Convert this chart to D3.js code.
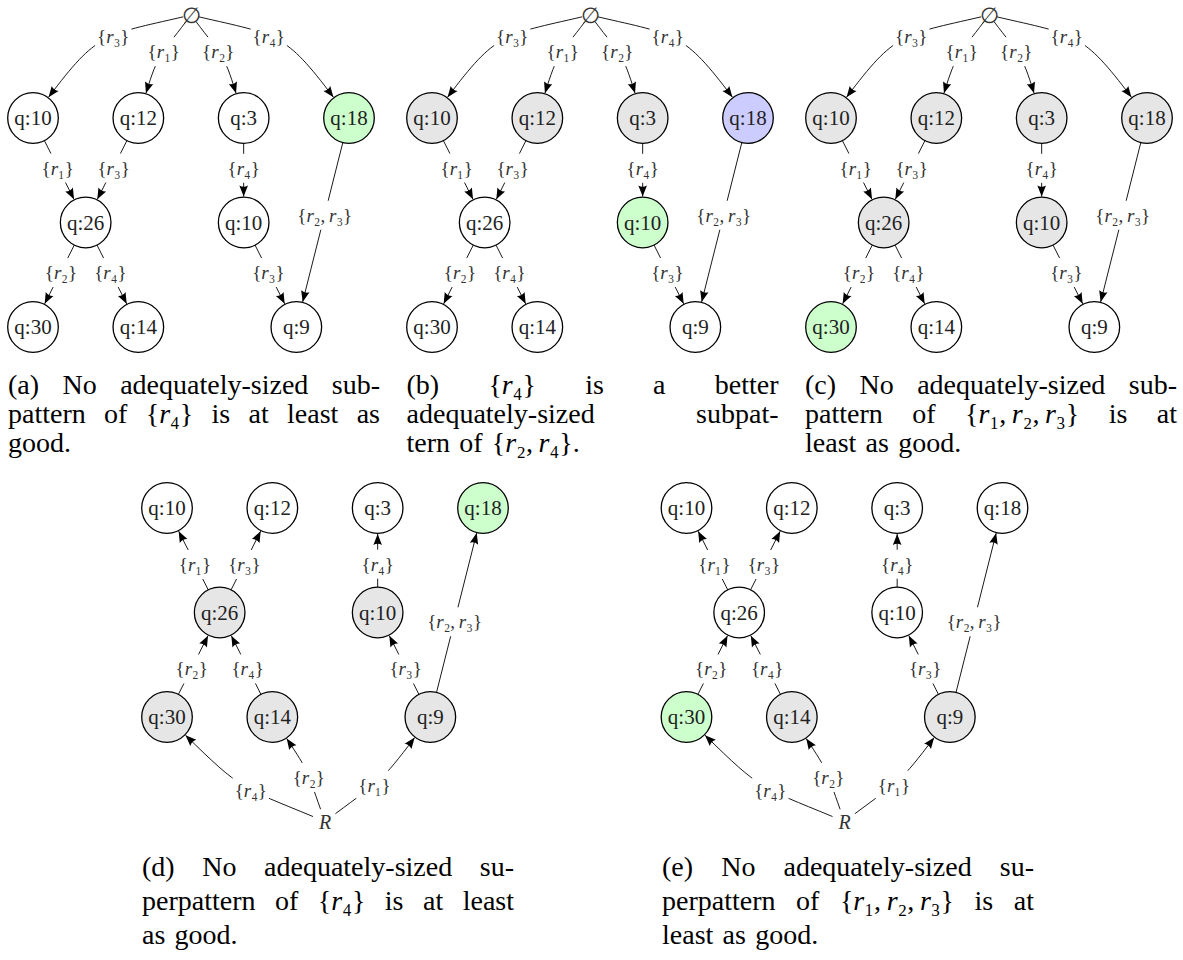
<!DOCTYPE html>
<html><head><meta charset="utf-8">
<script src="https://cdn.jsdelivr.net/npm/d3@7"></script>
<style>html,body{margin:0;padding:0;background:#fff}svg{display:block}</style>
</head><body>
<svg id="chart" width="1183" height="960"></svg>
<script>
// ---------------- data ----------------
const nodeIds    = ["q10a","q12","q3","q18","q26","q10b","q30","q14","q9"];
const nodeLabels = ["q:10","q:12","q:3","q:18","q:26","q:10","q:30","q:14","q:9"];
const nodeCols   = [0, 1, 2, 3, 0.5, 2, 0, 1, 2.5];
const nodeRows   = [0, 0, 0, 0, 1, 1, 2, 2, 2];

// sub-pattern lattice (panels a-c), root = ∅ on top
const subFrom   = ["root","root","root","root","q10a","q12","q3","q18","q26","q26","q10b"];
const subTo     = ["q10a","q12","q3","q18","q26","q26","q10b","q9","q30","q14","q9"];
const subLabels = ["{r_3}","{r_1}","{r_2}","{r_4}","{r_1}","{r_3}","{r_4}","{r_2, r_3}","{r_2}","{r_4}","{r_3}"];
const subBend   = [20, 10, -10, -20, 0, 0, 0, 0, 0, 0, 0];

// super-pattern lattice (panels d-e), root = R at bottom
const supFrom   = ["q26","q26","q10b","q9","q30","q14","q9","root","root","root"];
const supTo     = ["q10a","q12","q3","q18","q26","q26","q10b","q30","q14","q9"];
const supLabels = ["{r_1}","{r_3}","{r_4}","{r_2, r_3}","{r_2}","{r_4}","{r_3}","{r_4}","{r_2}","{r_1}"];
const supBend   = [0, 0, 0, 0, 0, 0, 0, -11, 7, 8];

// node states per panel: w = plain, g = grey, G = green, B = blue
const panelNames  = ["a","b","c","d","e"];
const panelKinds  = ["sub","sub","sub","sup","sup"];
const panelStates = [
  ["w","w","w","G","w","w","w","w","w"],
  ["g","g","g","B","w","G","w","w","w"],
  ["g","g","g","g","g","g","G","w","w"],
  ["w","w","w","G","g","g","g","g","g"],
  ["w","w","w","w","w","w","G","g","g"]
];
const captions = [
  ["(a) No adequately-sized sub-", "pattern of {r_4} is at least as", "good."],
  ["(b) {r_4} is a better", "adequately-sized subpat-", "tern of {r_2, r_4}."],
  ["(c) No adequately-sized sub-", "pattern of {r_1, r_2, r_3} is at", "least as good."],
  ["(d) No adequately-sized su-", "perpattern of {r_4} is at least", "as good."],
  ["(e) No adequately-sized su-", "perpattern of {r_1, r_2, r_3} is at", "least as good."]
];

// ---------------- layout / style ----------------
const panelX = [0, 399, 798, 134, 653.5];
const panelY = [0, 0, 0, 390, 390];
const capX = [8, 406.5, 805, 142, 662];
const capY = [394, 394, 394, 876, 876];
const capPitch = [29, 29, 29, 34, 34];
const capW = 372;
const fillColor = {w:"#ffffff", g:"#e6e6e6", G:"#ccffcc", B:"#ccccff"};
const SERIF = "'Liberation Serif','Times New Roman',serif";
const R = 25.3;
const LABFS = 19;
const CAPFS = 28;
const SUBDIGITS = {"0":"\u2080","1":"\u2081","2":"\u2082","3":"\u2083","4":"\u2084","5":"\u2085","6":"\u2086","7":"\u2087","8":"\u2088","9":"\u2089"};

const x = d3.scaleLinear().domain([0, 3]).range([33, 349]);
const y = d3.scaleLinear().domain([0, 2]).range([118, 327]);

const svg = d3.select("#chart");

function addRich(textSel, str, math) {
  let i = 0;
  while (i < str.length) {
    const ch = str[i];
    if (math && /[A-Za-z]/.test(ch)) {
      textSel.append("tspan").attr("font-style", "italic").text(ch);
      i++;
      if (str[i] === "_") {
        textSel.append("tspan").text(SUBDIGITS[str[i + 1]] || str[i + 1]);
        i += 2;
      }
    } else if (math && ch === ",") {
      textSel.append("tspan").text(",\u2009");
      i++;
      if (str[i] === " ") i++;
    } else {
      textSel.append("tspan").text(ch);
      i++;
    }
  }
}

function cubicPt(P0, C1, C2, P3, t) {
  const u = 1 - t;
  const a = u*u*u, b = 3*u*u*t, c = 3*u*t*t, d = t*t*t;
  return [a*P0[0]+b*C1[0]+c*C2[0]+d*P3[0], a*P0[1]+b*C1[1]+c*C2[1]+d*P3[1]];
}

panelNames.forEach((pn, pi) => {
  const kind = panelKinds[pi];
  const g = svg.append("g").attr("transform", `translate(${panelX[pi]},${panelY[pi]})`);
  const pos = {};
  nodeIds.forEach((id, k) => { pos[id] = [x(nodeCols[k]), y(nodeRows[k])]; });
  const rootPos = kind === "sub" ? [x(1.5), y(-1) + 1.5] : [x(1.5), y(3)];
  pos.root = rootPos;
  const from = kind === "sub" ? subFrom : supFrom;
  const to = kind === "sub" ? subTo : supTo;
  const labels = kind === "sub" ? subLabels : supLabels;
  const bends = kind === "sub" ? subBend : supBend;

  const eg = g.append("g");
  const lg = g.append("g");
  from.forEach((f, k) => {
    const S = pos[f], T = pos[to[k]];
    const rs = f === "root" ? (kind === "sub" ? 8 : 13) : R;
    const rt = R + 0.6;
    const phi = Math.atan2(T[1] - S[1], T[0] - S[0]);
    const th = bends[k] * Math.PI / 180;
    const a0 = phi + th, a1 = phi - th;
    const P0 = [S[0] + rs*Math.cos(a0), S[1] + rs*Math.sin(a0)];
    const P3 = [T[0] - rt*Math.cos(a1), T[1] - rt*Math.sin(a1)];
    const L = Math.hypot(P3[0]-P0[0], P3[1]-P0[1]);
    const kk = bends[k] ? 0.52 * L : L / 3;
    const C1 = [P0[0] + kk*Math.cos(a0), P0[1] + kk*Math.sin(a0)];
    const C2 = [P3[0] - kk*Math.cos(a1), P3[1] - kk*Math.sin(a1)];
    const p = d3.path();
    p.moveTo(P0[0], P0[1]);
    p.bezierCurveTo(C1[0], C1[1], C2[0], C2[1], P3[0], P3[1]);
    eg.append("path").attr("d", p.toString()).attr("fill", "none")
      .attr("stroke", "#000").attr("stroke-width", 0.9);
    // arrow head
    const dx = Math.cos(a1), dy = Math.sin(a1);
    const len = 11, hw = 4.3;
    const bx = P3[0] - len*dx, by = P3[1] - len*dy;
    const ah = d3.path();
    ah.moveTo(P3[0], P3[1]);
    ah.lineTo(bx - hw*dy, by + hw*dx);
    ah.quadraticCurveTo(P3[0] - 0.78*len*dx, P3[1] - 0.78*len*dy, bx + hw*dy, by - hw*dx);
    ah.closePath();
    eg.append("path").attr("d", ah.toString()).attr("fill", "#000");
    // label
    const lp = cubicPt(P0, C1, C2, P3, bends[k] ? 0.42 : 0.45);
    const lab = lg.append("g");
    const rect = lab.append("rect").attr("fill", "#fff");
    const txt = lab.append("text").attr("font-family", SERIF).attr("font-size", LABFS).attr("fill", "#333");
    addRich(txt, labels[k], true);
    const bb = txt.node().getBBox();
    rect.attr("x", bb.x - 2).attr("y", bb.y - 4).attr("width", bb.width + 4).attr("height", bb.height + 8);
    lab.attr("transform", `translate(${lp[0] - (bb.x + bb.width/2)},${lp[1] - (bb.y + bb.height/2) + 1})`);
  });

  // nodes
  const ng = g.append("g").selectAll("g").data(nodeIds).join("g")
    .attr("transform", d => `translate(${pos[d][0]},${pos[d][1]})`);
  ng.append("circle").attr("r", R)
    .attr("fill", (d, k) => fillColor[panelStates[pi][k]])
    .attr("stroke", "#000").attr("stroke-width", 1.3);
  ng.append("text").attr("text-anchor", "middle").attr("dy", "0.35em")
    .attr("font-family", SERIF).attr("font-size", 21).attr("fill", "#222")
    .text((d, k) => nodeLabels[k]);

  // root
  const rt = g.append("text").attr("x", rootPos[0]).attr("y", rootPos[1])
    .attr("text-anchor", "middle").attr("dy", "0.35em")
    .attr("font-family", SERIF).attr("fill", "#333");
  if (kind === "sub") rt.attr("font-size", 22).text("\u2205");
  else rt.attr("font-size", 20).attr("font-style", "italic").text("R");
});

// ---------------- captions (justified) ----------------
captions.forEach((lines, ci) => {
  const cg = svg.append("g");
  lines.forEach((line, li) => {
    const words = line.split(/ (?![^{]*\})/);
    const by = capY[ci] + li * capPitch[ci];
    const items = words.map(w => {
      const t = cg.append("text").attr("font-family", SERIF).attr("font-size", CAPFS).attr("fill", "#000").attr("y", by);
      addRich(t, w, w.includes("{"));
      return {t, w: t.node().getComputedTextLength()};
    });
    const total = d3.sum(items, d => d.w);
    const last = li === lines.length - 1;
    const gap = (!last && items.length > 1) ? (capW - total) / (items.length - 1) : CAPFS * 0.33;
    let cx = capX[ci];
    items.forEach(d => { d.t.attr("x", cx); cx += d.w + gap; });
  });
});
</script>
</body></html>
